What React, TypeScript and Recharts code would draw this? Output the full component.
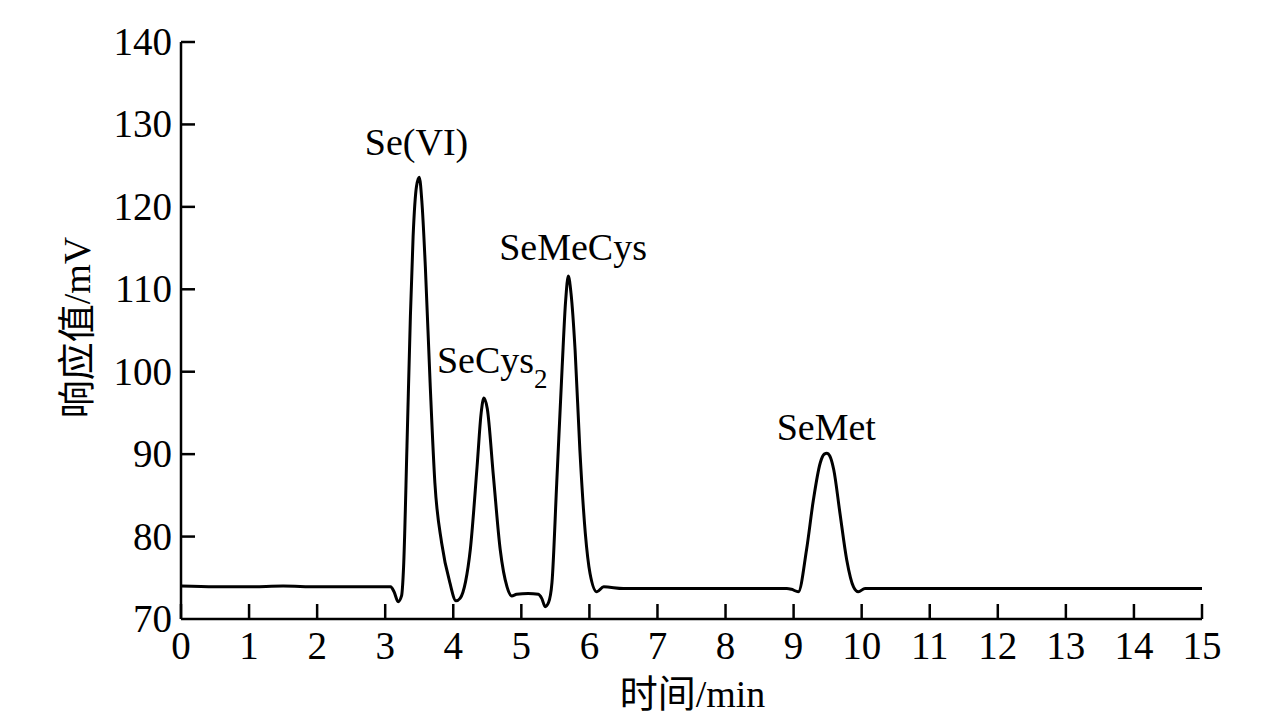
import React from 'react';
import { LineChart, Line, XAxis, YAxis, ReferenceDot } from 'recharts';

// retention time (min) and detector response (mV)
const times = [
  0, 0.5, 1.0, 1.5, 2.0, 2.5, 3.0, 3.08, 3.13, 3.19, 3.24, 3.27, 3.32, 3.37, 3.41, 3.46, 3.5,
  3.54, 3.59, 3.66, 3.73, 3.83, 3.95, 4.04, 4.1, 4.18, 4.25, 4.35, 4.41, 4.45, 4.5, 4.59, 4.69,
  4.79, 4.86, 4.93, 5.1, 5.25, 5.3, 5.35, 5.4, 5.45, 5.52, 5.6, 5.65, 5.69, 5.73, 5.79, 5.86,
  5.94, 6.01, 6.11, 6.21, 6.5, 7, 8, 8.9, 8.97, 9.07, 9.19, 9.29, 9.39, 9.45, 9.49, 9.53, 9.59,
  9.68, 9.78, 9.88, 9.95, 10.05, 11, 12, 13, 14, 15,
];
const response = [
  74.0, 73.9, 73.9, 74.0, 73.9, 73.9, 73.9, 73.9, 73.3, 72.1, 72.8, 76.3, 91.0, 106.7, 116.4, 122.5, 123.6,
  120.5, 112.7, 98.6, 86.5, 79.2, 74.4, 72.2, 72.5, 74.5, 78.4, 88.5, 95.0, 96.8, 95.5, 87.3, 78.4,
  73.9, 72.8, 73.0, 73.1, 73.0, 72.5, 71.5, 72.0, 74.4, 86.5, 100.6, 108.5, 111.6, 109.5, 102.6, 90.5,
  80.4, 75.5, 73.3, 73.9, 73.7, 73.7, 73.7, 73.7, 73.6, 73.3, 78.4, 84.4, 88.9, 90.0, 90.1, 89.8, 88.1,
  82.9, 77.2, 73.9, 73.3, 73.7, 73.7, 73.7, 73.7, 73.7, 73.7,
];

const xTicks = [0, 1, 2, 3, 4, 5, 6, 7, 8, 9, 10, 11, 12, 13, 14, 15];
const yTicks = [70, 80, 90, 100, 110, 120, 130, 140];

// peak names, placed at (time, response) of the text baseline
const peakNames = ['Se(VI)', 'SeCys', 'SeMeCys', 'SeMet'];
const peakSubs = ['', '2', '', ''];
const peakX = [3.46, 3.76, 5.76, 9.48];
const peakY = [126.3, 99.84, 113.55, 91.7];
const peakAnchor = ['middle', 'start', 'middle', 'middle'];

const data = times.map((t, i) => ({ t, v: response[i] }));

const FONT = '"Liberation Serif", "Times New Roman", "Noto Sans CJK SC", serif';

const XTick = (props: any) => {
  const { x, y, payload } = props;
  return (
    <g>
      <line x1={x} y1={y} x2={x} y2={y - 15} stroke="#000" strokeWidth={2.5} />
      <text x={x} y={y + 40} textAnchor="middle" fontSize={39} fontFamily={FONT} fill="#000">
        {payload.value}
      </text>
    </g>
  );
};

const YTick = (props: any) => {
  const { x, y, payload } = props;
  return (
    <g>
      {payload.value !== 70 && <line x1={x} y1={y} x2={x + 14} y2={y} stroke="#000" strokeWidth={2.5} />}
      <text x={x - 9} y={y + 13} textAnchor="end" fontSize={39} fontFamily={FONT} fill="#000">
        {payload.value}
      </text>
    </g>
  );
};

const XTitle = (props: any) => {
  const vb = props.viewBox;
  return (
    <text x={vb.x + vb.width / 2 + 1} y={vb.y + 88} textAnchor="middle" fontSize={38} fontFamily={FONT} fill="#000">
      时间/min
    </text>
  );
};

const YTitle = (props: any) => {
  const vb = props.viewBox;
  const cx = 77;
  const cy = vb.y + vb.height / 2 - 3;
  return (
    <text
      x={cx}
      y={cy}
      transform={`rotate(-90, ${cx}, ${cy})`}
      textAnchor="middle"
      dominantBaseline="central"
      fontSize={38}
      fontFamily={FONT}
      fill="#000"
    >
      响应值/mV
    </text>
  );
};

const peakLabel = (i: number) => (props: any) => {
  const vb = props.viewBox || {};
  return (
    <text
      x={vb.x}
      y={vb.y}
      textAnchor={peakAnchor[i] as any}
      fontSize={38}
      fontFamily={FONT}
      fill="#000"
    >
      {peakNames[i]}
      {peakSubs[i] && (
        <tspan fontSize={27} dx={0} dy={15}>
          {peakSubs[i]}
        </tspan>
      )}
    </text>
  );
};

export default function App() {
  return (
    <div style={{ position: 'absolute', left: 0, top: 0, background: '#fff' }}>
      <LineChart width={1276} height={721} data={data} margin={{ top: 42, right: 74, bottom: 0, left: 0 }}>
        <XAxis
          dataKey="t"
          type="number"
          domain={[0, 15]}
          ticks={xTicks}
          interval={0}
          tickSize={0}
          tickMargin={0}
          tickLine={false}
          height={102}
          axisLine={{ stroke: '#000', strokeWidth: 2.5 }}
          tick={<XTick />}
          label={{ content: XTitle }}
        />
        <YAxis
          type="number"
          domain={[70, 140]}
          ticks={yTicks}
          interval={0}
          width={181}
          tickSize={0}
          tickMargin={0}
          tickLine={false}
          axisLine={{ stroke: '#000', strokeWidth: 2.5 }}
          tick={<YTick />}
          label={{ content: YTitle }}
        />
        <Line
          dataKey="v"
          type="monotone"
          stroke="#000"
          strokeWidth={3}
          dot={false}
          isAnimationActive={false}
        />
        {peakNames.map((n, i) => (
          <ReferenceDot
            key={n}
            x={peakX[i]}
            y={peakY[i]}
            r={0}
            fill="none"
            stroke="none"
            ifOverflow="visible"
            label={peakLabel(i)}
          />
        ))}
      </LineChart>
    </div>
  );
}
